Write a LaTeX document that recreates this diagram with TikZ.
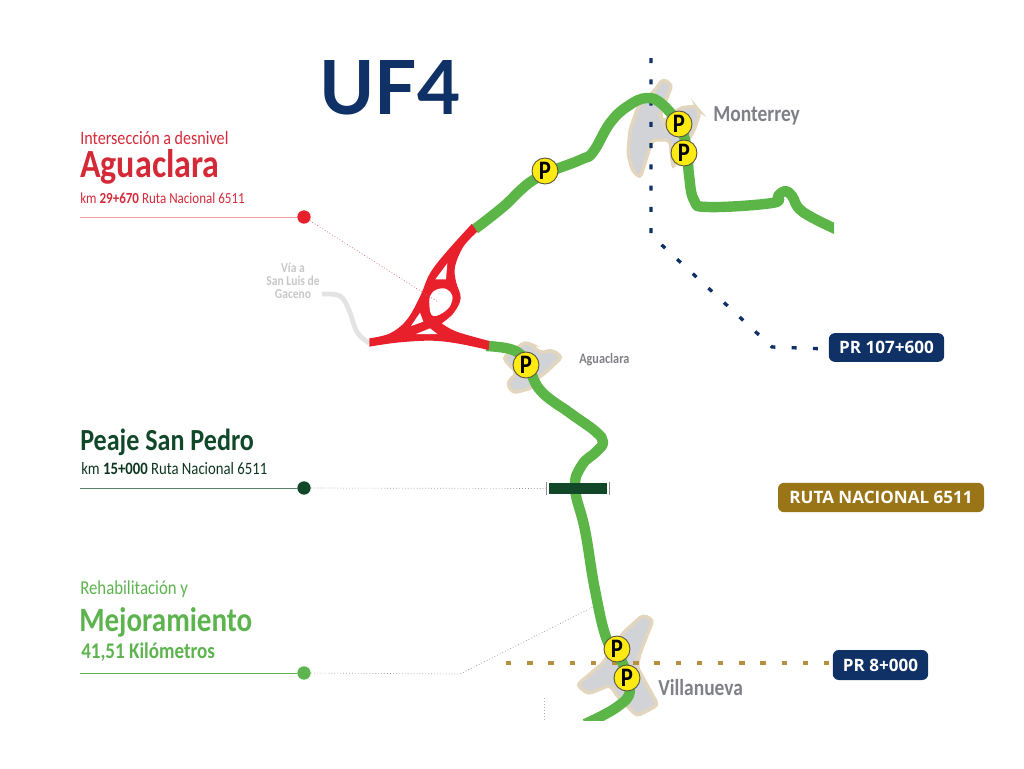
\documentclass[tikz,border=0pt]{standalone}
\usepackage{fontspec}
\setmainfont[FakeStretch=0.85]{Carlito}
\newfontfamily\titlefont{Lato}
\newfontfamily\badgefont{Open Sans}
\usepackage{tikz}
\usetikzlibrary{positioning,calc}

\definecolor{navyline}{HTML}{0F3166}
\definecolor{roadgreen}{HTML}{5BB547}
\definecolor{labelgreen}{HTML}{5DB44F}
\definecolor{tollgreen}{HTML}{11482A}
\definecolor{crossred}{HTML}{E8202B}
\definecolor{labelred}{HTML}{D42A38}
\definecolor{townbeige}{HTML}{E3D6BE}
\definecolor{towngrey}{HTML}{D2D3D6}
\definecolor{routegold}{HTML}{9A7518}
\definecolor{dashgold}{HTML}{B78F3F}
\definecolor{placegrey}{HTML}{7F8087}
\definecolor{pyellow}{HTML}{FFEA12}

\tikzset{
    label/.style={anchor=west, inner sep=0pt},
    roadline/.style={draw=roadgreen, line width=7.8pt, line join=round},
    townshape/.style={draw=townbeige, fill=towngrey, line width=2.6pt, rounded corners=3pt},
    pmark/.style={circle, draw=black!75!yellow, fill=pyellow, line width=0.7pt,
        minimum size=19.5pt, inner sep=0pt, font=\fontsize{20}{20}\selectfont\bfseries},
    dotmark/.style={circle, minimum size=#1, inner sep=0pt},
    prbadge/.style={fill=navyline, rounded corners=4.5pt, text=white, inner sep=0pt,
        font=\badgefont\fontsize{12.8}{13}\selectfont\bfseries},
    placename/.style={text=placegrey, inner sep=0pt, font=\fontsize{17.2}{17}\selectfont\bfseries},
    leader/.style={line width=0.5pt},
    dotleader/.style={line width=0.5pt, dash pattern=on 0.6pt off 1.6pt}
}

\begin{document}
\begin{tikzpicture}[x=0.75pt, y=-0.75pt]
    \useasboundingbox (0,0) rectangle (1024,768);

    % Drawing the town patches
    \draw[townshape] (663,79) -- (672,85) -- (660,115) -- (663,122) -- (680,108) -- (695,106) -- (700,112)
        -- (695,128) -- (673,168) -- (670,140) -- (652,140) -- (645,163) -- (640,178) -- (632,170)
        -- (628,153) -- (630,130) -- (638,107) -- (655,90) -- cycle;
    \draw[townshape] (503,358) -- (525,342) -- (532,345) -- (540,353) -- (552,350) -- (562,357) -- (545,373)
        -- (535,380) -- (532,388) -- (513,393) -- (507,383) -- (517,373) -- cycle;
    \draw[townshape] (643,615) -- (653,620) -- (640,653) -- (637,667) -- (658,705) -- (637,716) -- (618,697)
        -- (610,685) -- (588,694) -- (577,685) -- (603,663) -- (623,633) -- cycle;

    % Drawing the dashed limits
    \draw[navyline, line width=2.5pt, dash pattern=on 3.75pt off 12.2pt]
        (651,58) -- (651,235) -- (772,347) -- (828,349);
    \draw[dashgold, line width=2.5pt, dash pattern=on 4pt off 11.9pt] (506,663) -- (832,663);
    \draw[black!30, dotleader] (544,698) -- (544,719);

    % Drawing the side road
    \draw[black!11, line width=3.6pt] plot[smooth, tension=0.6] coordinates
        {(322,294) (340,296) (349,310) (357,332) (369,343)};

    % Drawing the green road
    \begin{scope}
        \clip (0,0) rectangle (834,720);
        \draw[roadline] plot[smooth, tension=0.7] coordinates
            {(475,229) (503,207) (535,179) (580,160) (593,152) (610,123) (628,106) (647,98) (663,105) (680,127)
             (687,150) (689,175) (694,200) (708,207) (772,203) (778,196) (785,191) (792,196) (803,212) (840,231)};
        \draw[roadline] plot[smooth, tension=0.7] coordinates
            {(486,346) (513,350) (527,363) (540,390) (570,413) (595,431) (603,442) (596,452) (582,465) (575,488)
             (585,530) (595,590) (607,640) (622,662) (630,690) (617,707) (585,724)};
    \end{scope}

    % Drawing the interchange
    \begin{scope}[shift={(250,210)}, x=0.25pt, y=-0.25pt]
        \fill[crossred] plot[smooth, tension=0.6] coordinates
            {(358,385) (420,370) (470,330) (510,260) (540,190) (590,125) (665,42)}
            -- (682,65)
            -- plot[smooth, tension=0.6] coordinates
            {(682,65) (640,110) (615,170) (618,215) (632,265) (610,310) (575,340)}
            -- plot[smooth, tension=0.6] coordinates
            {(575,340) (620,365) (718,393)}
            -- (716,420)
            -- plot[smooth, tension=0.6] coordinates
            {(716,420) (620,400) (540,392) (440,398) (358,410)} -- cycle;
        \fill[white] (592,160) -- (588,208) -- (556,208) -- cycle;
        \fill[white] plot[smooth cycle, tension=0.7] coordinates
            {(575,235) (600,245) (607,270) (590,300) (550,318) (538,285) (545,250)};
        \fill[white] (510,308) -- (520,335) -- (483,348) -- cycle;
        \fill[white] (540,355) -- (562,372) -- (498,372) -- cycle;
    \end{scope}

    % Drawing the toll bar
    \node[fill=tollgreen, minimum width=43.5pt, minimum height=8.2pt, inner sep=0pt] (tollbar) at (578,488.5) {};
    \draw[black!45, line width=0.5pt] (546.5,482) -- (546.5,495);
    \draw[black!45, line width=0.5pt] (609.5,482) -- (609.5,495);

    % Marking the P stops
    \node[pmark] (pOne) at (545,171) {P};
    \node[pmark] (pTwo) at (679,124) {P};
    \node[pmark] (pThree) at (684,153) {P};
    \node[pmark] (pFour) at (526,365) {P};
    \node[pmark] (pFive) at (617,649) {P};
    \node[pmark] (pSix) at (627,678) {P};

    % Left column, interchange
    \node[label, text=labelred, font=\fontsize{14.2}{14}\selectfont] (interTitle) at (80,137.5) {Intersección a desnivel};
    \node[label, text=labelred, font=\fontsize{30}{30}\selectfont\bfseries] (interName) at (80,167) {Aguaclara};
    \node[label, text=labelred, font=\fontsize{11.5}{12}\selectfont] (interKm) at (80,198) {km \textbf{29+670} Ruta Nacional 6511};
    \coordinate (interStart) at (80,217);
    \coordinate (interEnd) at (438,302);
    \node[dotmark=10pt, fill=crossred] (interDot) at (304,217) {};
    \draw[leader, crossred!45] (interStart) -- (interDot);
    \draw[dotleader, labelred!70] (interDot) -- (interEnd);

    % Left column, toll
    \node[label, text=tollgreen, font=\fontsize{23}{23}\selectfont\bfseries] (tollName) at (80,442) {Peaje San Pedro};
    \node[label, text=tollgreen!75!black, font=\fontsize{13}{13}\selectfont] (tollKm) at (81,469) {km \textbf{15+000} Ruta Nacional 6511};
    \coordinate (tollStart) at (80,488);
    \node[dotmark=10pt, fill=tollgreen] (tollDot) at (304,488) {};
    \draw[leader, tollgreen!70!white] (tollStart) -- (tollDot);
    \draw[dotleader, black!40] (tollDot) -- (tollbar.west);

    % Left column, road works
    \node[label, text=labelgreen, font=\fontsize{14.8}{15}\selectfont] (worksTitle) at (80,589.5) {Rehabilitación y};
    \node[label, text=labelgreen, font=\fontsize{25.6}{26}\selectfont\bfseries] (worksName) at (79,622) {Mejoramiento};
    \node[label, text=labelgreen, font=\fontsize{16.8}{17}\selectfont\bfseries] (worksKm) at (81,652.5) {41,51 Kilómetros};
    \coordinate (worksStart) at (80,673);
    \coordinate (worksBend) at (460,674);
    \coordinate (worksEnd) at (593,607);
    \node[dotmark=10pt, fill=labelgreen] (worksDot) at (304,673) {};
    \draw[leader, labelgreen] (worksStart) -- (worksDot);
    \draw[dotleader, black!40] (worksDot) -- (worksBend) -- (worksEnd);

    % Place names
    \node[placename, anchor=west] (monterrey) at (713,115.5) {Monterrey};
    \node[placename, anchor=west, font=\fontsize{10.8}{11}\selectfont\bfseries] (aguaclara) at (579,360) {Aguaclara};
    \node[placename, anchor=west] (villanueva) at (658,687.5) {Villanueva};
    \node[text=black!22, inner sep=0pt, align=center, font=\fontsize{10.2}{9.6}\selectfont\bfseries] (viaLabel) at (293,281) {Vía a\\San Luis de\\Gaceno};

    % Badges
    \node[prbadge, minimum width=86.5pt, minimum height=21.5pt] (prNorth) at (886.5,347.5) {PR 107+600};
    \node[prbadge, minimum width=71.5pt, minimum height=22.5pt] (prSouth) at (880.5,665) {PR 8+000};
    \node[prbadge, fill=routegold, minimum width=154.5pt, minimum height=22pt] (routeBadge) at (881,497.5) {RUTA NACIONAL 6511};

    % Title
    \node[text=navyline, inner sep=0pt, font=\titlefont\fontsize{56}{56}\selectfont\bfseries] (ufTitle) at (390,88) {UF4};
\end{tikzpicture}
\end{document}
